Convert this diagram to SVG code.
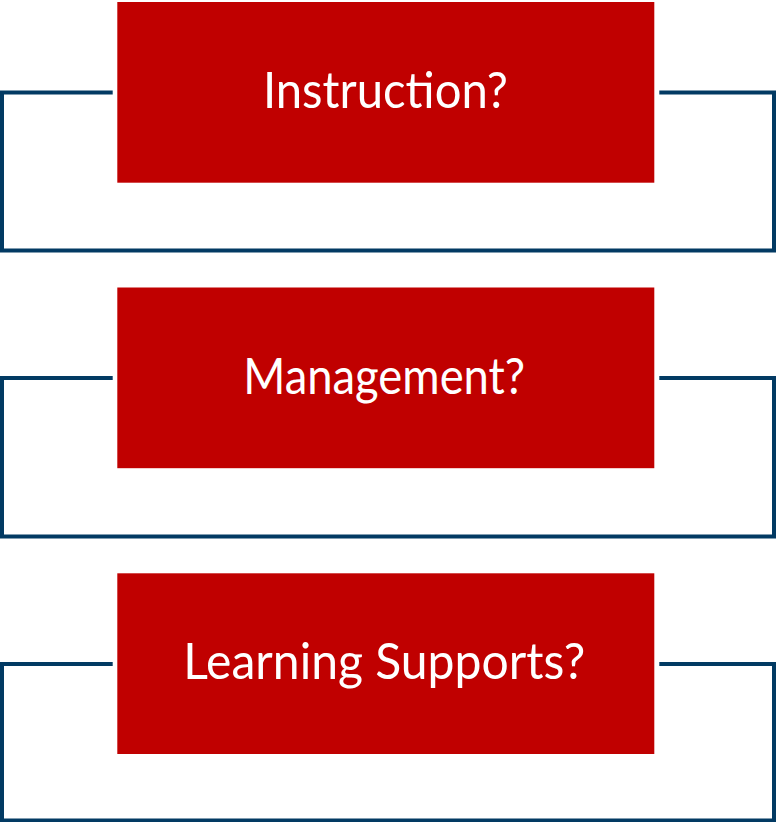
<svg xmlns="http://www.w3.org/2000/svg" width="776" height="822" viewBox="0 0 776 822">
<style>
.box{fill:#C00000}
.lbl{fill:#FFFFFF;font-family:Lato,"Open Sans","Liberation Sans",sans-serif;font-size:50px;text-anchor:middle}
.conn{fill:none;stroke:#023A63;stroke-width:4;stroke-linejoin:miter}
</style>
<rect width="776" height="822" fill="#FFFFFF"/>
<g id="connectors">
<path class="conn" d="M112.7,92.5 H2 V250.5 H774 V92.5 H659.3"/>
<path class="conn" d="M112.7,378 H2 V536.5 H774 V378 H659.3"/>
<path class="conn" d="M112.7,664 H2 V820.5 H774 V664 H659.3"/>
</g>
<g id="node-instruction">
<rect class="box" x="117.3" y="2" width="537" height="180.7"/>
<text class="lbl" x="385.4" y="108.3" textLength="245" lengthAdjust="spacingAndGlyphs">Instruction?</text>
</g>
<g id="node-management">
<rect class="box" x="117.3" y="287.5" width="537" height="180.7"/>
<text class="lbl" x="384.2" y="394.3" textLength="282" lengthAdjust="spacingAndGlyphs">Management?</text>
</g>
<g id="node-learning-supports">
<rect class="box" x="117.3" y="573.3" width="537" height="180.7"/>
<text class="lbl" x="384.2" y="679.3" textLength="402" lengthAdjust="spacingAndGlyphs">Learning Supports?</text>
</g>
</svg>
